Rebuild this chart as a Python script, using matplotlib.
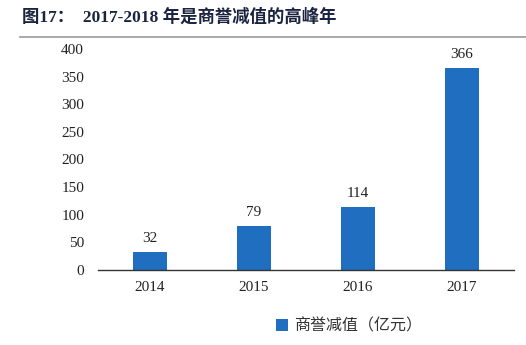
import matplotlib.pyplot as plt
from matplotlib.lines import Line2D

years = ['2014', '2015', '2016', '2017']
values = [32, 79, 114, 366]
title = '图17：  2017-2018 年是商誉减值的高峰年'
series_name = '商誉减值（亿元）'

plt.rcParams['font.family'] = ['Liberation Serif', 'Noto Sans CJK SC']

fig = plt.figure(figsize=(5.26, 3.45), dpi=100)
ax = fig.add_axes([98 / 526, 1 - 270 / 345, 416 / 526, 221 / 345])

x = range(len(years))
bars = ax.bar(x, values, width=0.33, color='#1F6EBF', label=series_name, zorder=2)
for xi, v in zip(x, values):
    ax.annotate(str(v), (xi, v), textcoords='offset points', xytext=(0, 5),
                ha='center', va='bottom', fontsize=11, color='#222222')

ax.set_xlim(-0.5, len(years) - 0.5)
ax.set_ylim(0, 400)
ax.set_yticks(range(0, 401, 50))
ax.set_xticks(list(x))
ax.set_xticklabels(years)
ax.tick_params(axis='both', length=0, labelsize=11, colors='#222222')
ax.tick_params(axis='x', pad=8)
ax.tick_params(axis='y', pad=10)
for s in ['top', 'right', 'left']:
    ax.spines[s].set_visible(False)
ax.spines['bottom'].set_color('#333333')
ax.spines['bottom'].set_linewidth(1.0)

fig.text(22 / 526, 1 - 17 / 345, title, fontsize=12.5, fontweight='bold',
         color='#1a2440', va='center', ha='left',
         family=['Liberation Serif', 'Noto Sans CJK SC'])
fig.add_artist(Line2D([20 / 526, 1.0], [1 - 37 / 345] * 2, color='#999999', lw=1.2))

leg = fig.legend(handles=[bars], labels=[series_name], loc='center left',
                 bbox_to_anchor=(262 / 526, 1 - 326 / 345), frameon=False,
                 handlelength=0.7, handleheight=0.7, handletextpad=0.4,
                 prop={'family': ['Noto Sans CJK SC'], 'size': 11.5})
for t in leg.get_texts():
    t.set_color('#333333')

fig.savefig('out.png', dpi=100)
